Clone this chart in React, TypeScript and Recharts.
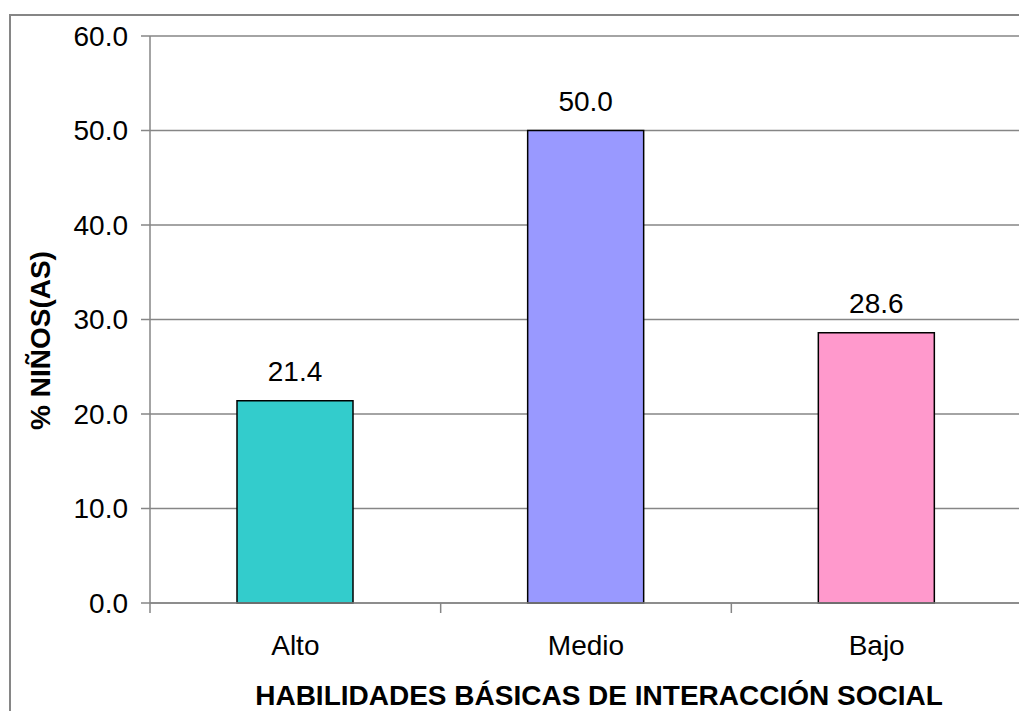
import React from 'react';
import {BarChart, Bar, Cell, LabelList, CartesianGrid, XAxis, YAxis} from 'recharts';

const categories = ['Alto', 'Medio', 'Bajo'];
const percentages = [21.4, 50.0, 28.6];
const barColors = ['#33CCCC', '#9999FF', '#FF99CC'];
const yTicks = [0, 10, 20, 30, 40, 50, 60];

const data = categories.map((name, i) => ({name, value: percentages[i]}));

const lineColor = '#868686';
const font = '"Liberation Sans", Arial, sans-serif';
const fontSize = 28;

interface ILabelProps {
  viewBox?: {x: number; y: number; width: number; height: number};
}

interface ITickProps {
  x?: number;
  y?: number;
  payload?: any;
}

// category label, plus the tick mark on the left edge of its band (Excel style)
const CategoryTick = ({x = 0, y = 0, payload}: ITickProps) => {
  const edge = x - (payload?.offset ?? 0);
  return (
    <g>
      <line x1={edge} x2={edge} y1={y} y2={y + 10} stroke={lineColor} strokeWidth={1.5} />
      <text x={x} y={y + 52} textAnchor="middle" fill="#000" fontSize={fontSize} fontFamily={font}>
        {payload.value}
      </text>
    </g>
  );
};

const YTitle = ({viewBox}: ILabelProps) => {
  if (!viewBox) return null;
  const x = viewBox.x + 50;
  const y = viewBox.y + viewBox.height / 2 + 21;
  return (
    <text x={x} y={y} transform={`rotate(-90, ${x}, ${y})`} textAnchor="middle"
      fontFamily={font} fontSize={fontSize} fontWeight="bold" fill="#000">
      % NIÑOS(AS)
    </text>
  );
};

const XTitle = ({viewBox}: ILabelProps) => {
  if (!viewBox) return null;
  return (
    <text x={viewBox.x + viewBox.width / 2 + 13} y={viewBox.y + 102} textAnchor="middle"
      fontFamily={font} fontSize={fontSize} fontWeight="bold" fill="#000">
      HABILIDADES BÁSICAS DE INTERACCIÓN SOCIAL
    </text>
  );
};

const App = () => (
  <div style={{position: 'absolute', left: 0, top: 0, width: 1019, height: 711, overflow: 'hidden', background: '#fff'}}>
    <div style={{position: 'absolute', left: 9, top: 14, width: 1100, height: 800, border: `2px solid ${lineColor}`}} />
    <div style={{position: 'absolute', left: 0, top: 0}}>
      <BarChart width={1040} height={720} data={data} margin={{top: 36, right: 18, bottom: 0, left: 0}}>
        <CartesianGrid vertical={false} stroke={lineColor} strokeWidth={1.5} strokeOpacity={1} />
        <XAxis dataKey="name" height={117} tickLine={false} tickSize={0} tickMargin={0}
          axisLine={{stroke: lineColor, strokeWidth: 1.5}}
          tick={<CategoryTick />} label={<XTitle />} />
        <YAxis width={150} domain={[0, 60]} ticks={yTicks} tickSize={9} tickMargin={13}
          tickFormatter={(v: number) => v.toFixed(1)}
          axisLine={{stroke: lineColor, strokeWidth: 1.5}} tickLine={{stroke: lineColor, strokeWidth: 1.5}}
          tick={{fill: '#000', fontSize, fontFamily: font}} label={<YTitle />} />
        <Bar dataKey="value" barSize={116} stroke="#000" strokeWidth={1.5} isAnimationActive={false}>
          {data.map((d, i) => <Cell key={d.name} fill={barColors[i]} />)}
          <LabelList dataKey="value" position="top" offset={20} fill="#000" fontSize={fontSize}
            fontFamily={font} formatter={(v: any) => Number(v).toFixed(1)} />
        </Bar>
      </BarChart>
    </div>
  </div>
);

export default App;
